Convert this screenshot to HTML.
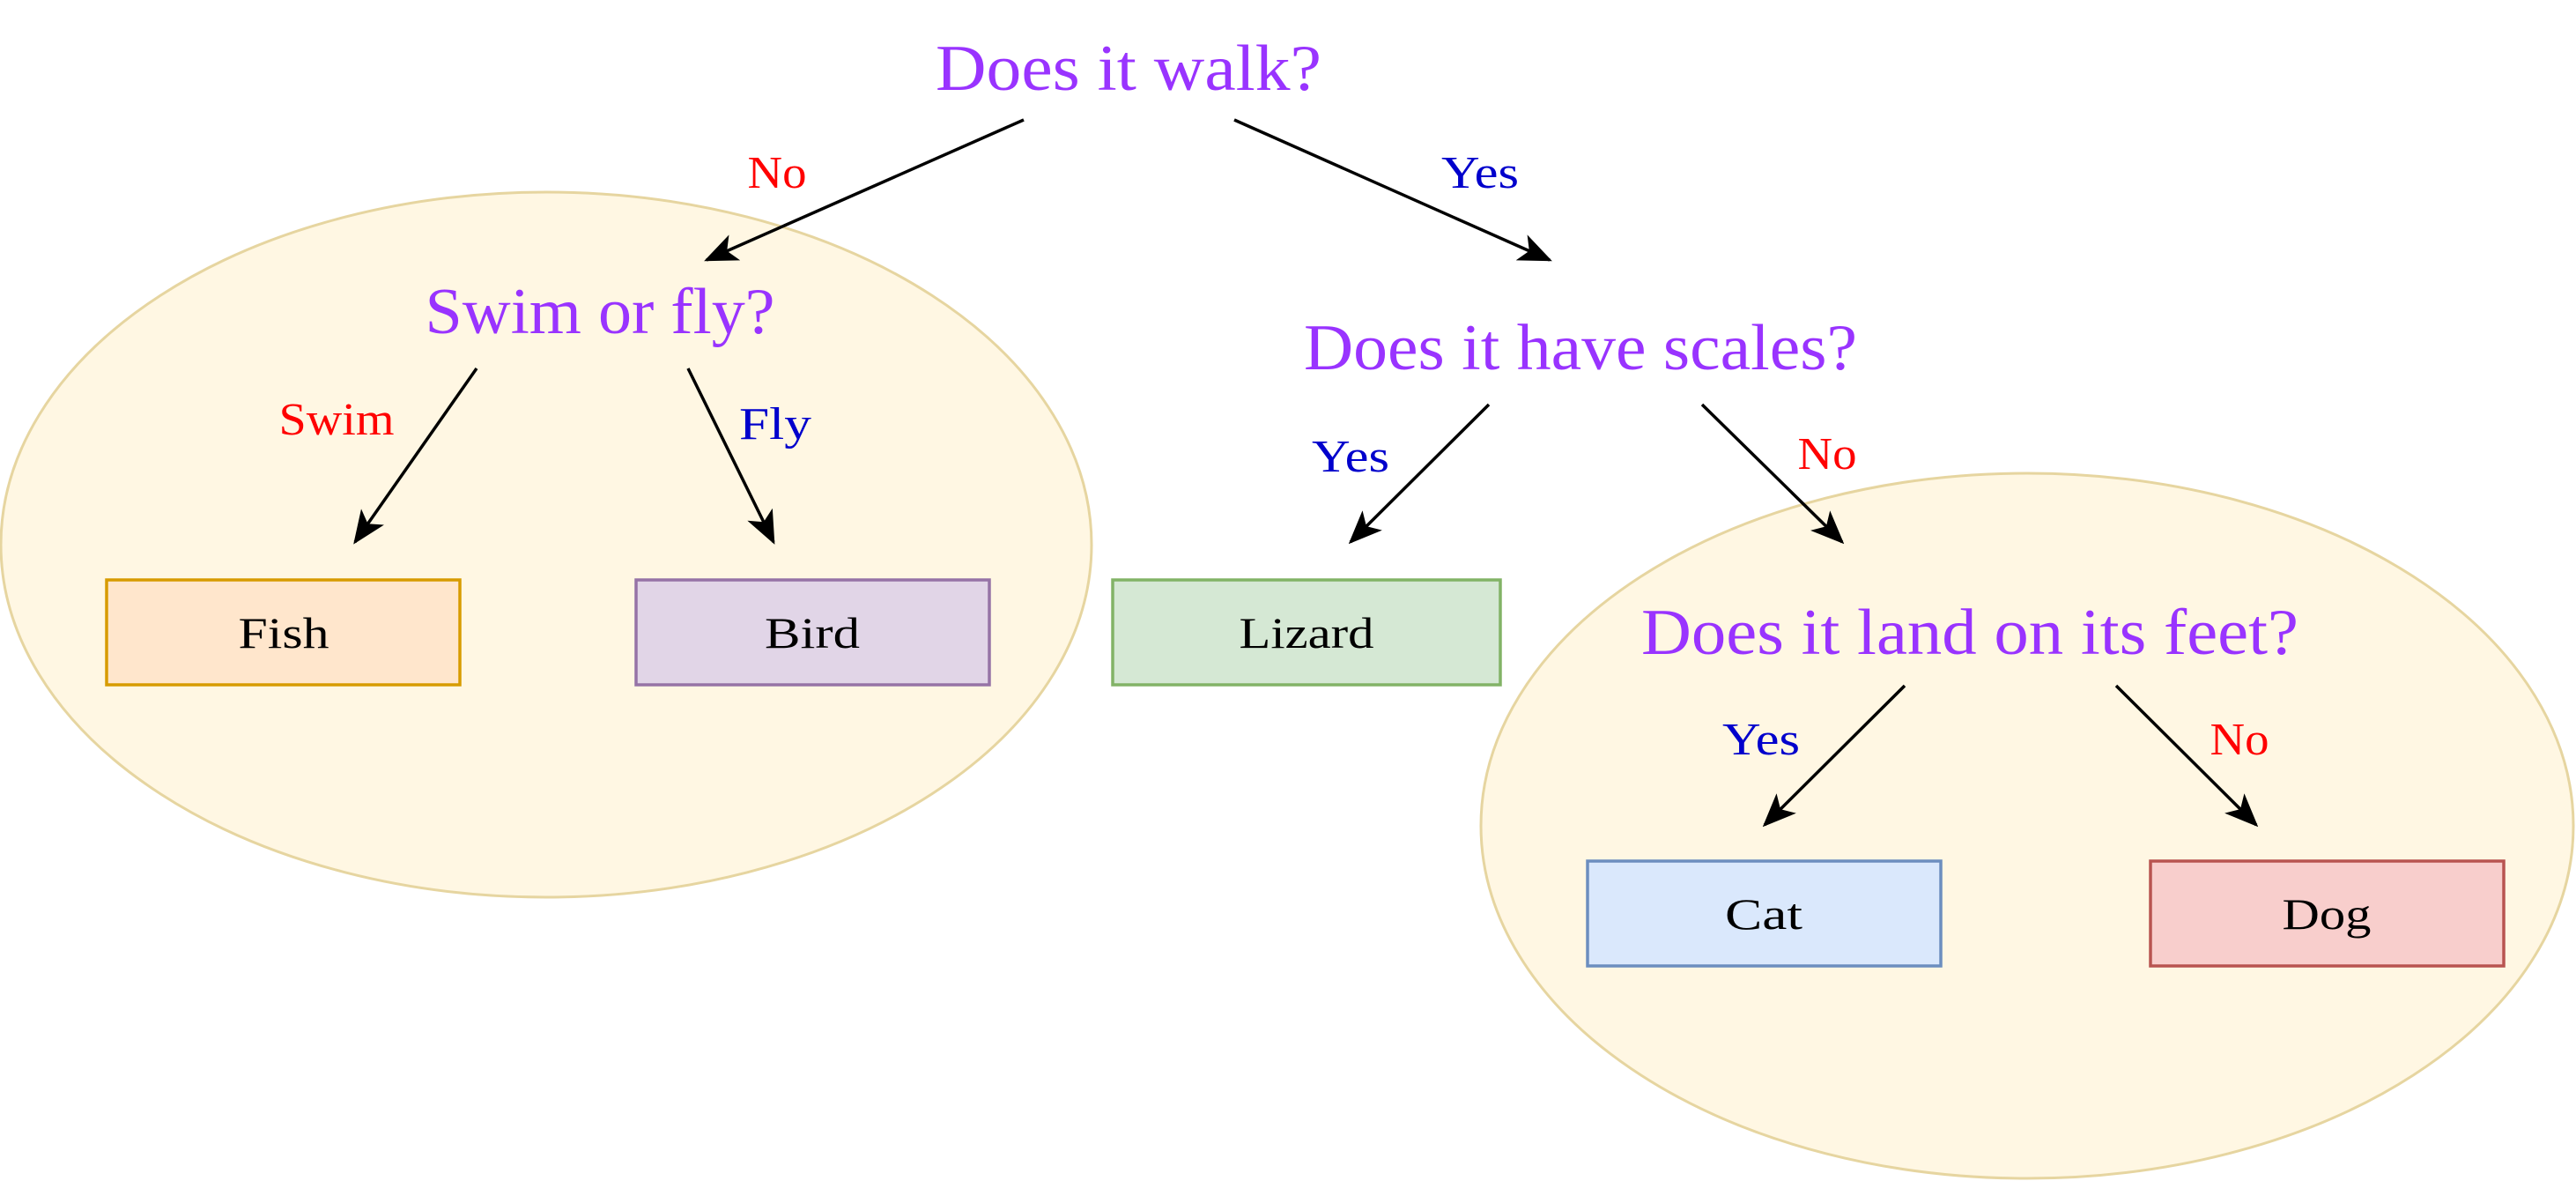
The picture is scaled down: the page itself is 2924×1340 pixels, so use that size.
<!DOCTYPE html>
<html><head><style>body{margin:0;background:#fff}svg{display:block}</style></head><body>
<svg width="2924" height="1340" viewBox="0 0 2924 1340" xmlns="http://www.w3.org/2000/svg" font-family="'Liberation Serif', serif">
<defs>
<marker id="h" viewBox="0 0 12 10" refX="11" refY="5" markerWidth="38" markerHeight="32" markerUnits="userSpaceOnUse" orient="auto">
<path d="M0,0 L12,5 L0,10 L3,5 Z" fill="#000"/>
</marker>
</defs>
<ellipse cx="620" cy="618" rx="619" ry="400" fill="#fff7e3" stroke="#e6d5a0" stroke-width="3"/>
<ellipse cx="2301" cy="937" rx="620" ry="400" fill="#fff7e3" stroke="#e6d5a0" stroke-width="3"/>
<g stroke="#000" stroke-width="3.5" fill="none" marker-end="url(#h)">
<line x1="1162" y1="136" x2="802" y2="295"/>
<line x1="1401" y1="136" x2="1759" y2="295"/>
<line x1="541" y1="418" x2="403" y2="615"/>
<line x1="781" y1="418" x2="878" y2="615"/>
<line x1="1690" y1="459" x2="1533" y2="615"/>
<line x1="1932" y1="459" x2="2091" y2="615"/>
<line x1="2162" y1="778" x2="2003" y2="936"/>
<line x1="2402" y1="778" x2="2561" y2="936"/>
</g>
<g stroke-width="3.5">
<rect x="121" y="658" width="401" height="119" fill="#ffe6cc" stroke="#d79b00"/>
<rect x="722" y="658" width="401" height="119" fill="#e1d5e7" stroke="#9673a6"/>
<rect x="1263" y="658" width="440" height="119" fill="#d5e8d4" stroke="#82b366"/>
<rect x="1802" y="977" width="401" height="119" fill="#dae8fc" stroke="#6c8ebf"/>
<rect x="2441" y="977" width="401" height="119" fill="#f8cecc" stroke="#b85450"/>
</g>
<g font-size="50" text-anchor="middle" fill="#000" lengthAdjust="spacingAndGlyphs">
<text x="322" y="735" textLength="103" lengthAdjust="spacingAndGlyphs">Fish</text>
<text x="922" y="735" textLength="108" lengthAdjust="spacingAndGlyphs">Bird</text>
<text x="1483" y="735" textLength="153" lengthAdjust="spacingAndGlyphs">Lizard</text>
<text x="2002" y="1054" textLength="88" lengthAdjust="spacingAndGlyphs">Cat</text>
<text x="2641" y="1054" textLength="101" lengthAdjust="spacingAndGlyphs">Dog</text>
</g>
<g font-size="74" text-anchor="middle" fill="#9933ff">
<text x="1281" y="102" textLength="438" lengthAdjust="spacingAndGlyphs">Does it walk?</text>
<text x="681" y="378" textLength="397" lengthAdjust="spacingAndGlyphs">Swim or fly?</text>
<text x="1794" y="419" textLength="628" lengthAdjust="spacingAndGlyphs">Does it have scales?</text>
<text x="2236" y="742" textLength="746" lengthAdjust="spacingAndGlyphs">Does it land on its feet?</text>
</g>
<g font-size="52" text-anchor="middle">
<text x="882" y="213" fill="#ff0000" textLength="67" lengthAdjust="spacingAndGlyphs">No</text>
<text x="1680" y="213" fill="#0000cc" textLength="88" lengthAdjust="spacingAndGlyphs">Yes</text>
<text x="382" y="493" fill="#ff0000" textLength="131" lengthAdjust="spacingAndGlyphs">Swim</text>
<text x="880" y="498" fill="#0000cc" textLength="82" lengthAdjust="spacingAndGlyphs">Fly</text>
<text x="1533" y="535" fill="#0000cc" textLength="88" lengthAdjust="spacingAndGlyphs">Yes</text>
<text x="2074" y="532" fill="#ff0000" textLength="67" lengthAdjust="spacingAndGlyphs">No</text>
<text x="1999" y="856" fill="#0000cc" textLength="88" lengthAdjust="spacingAndGlyphs">Yes</text>
<text x="2542" y="856" fill="#ff0000" textLength="67" lengthAdjust="spacingAndGlyphs">No</text>
</g>
</svg>
</body></html>
